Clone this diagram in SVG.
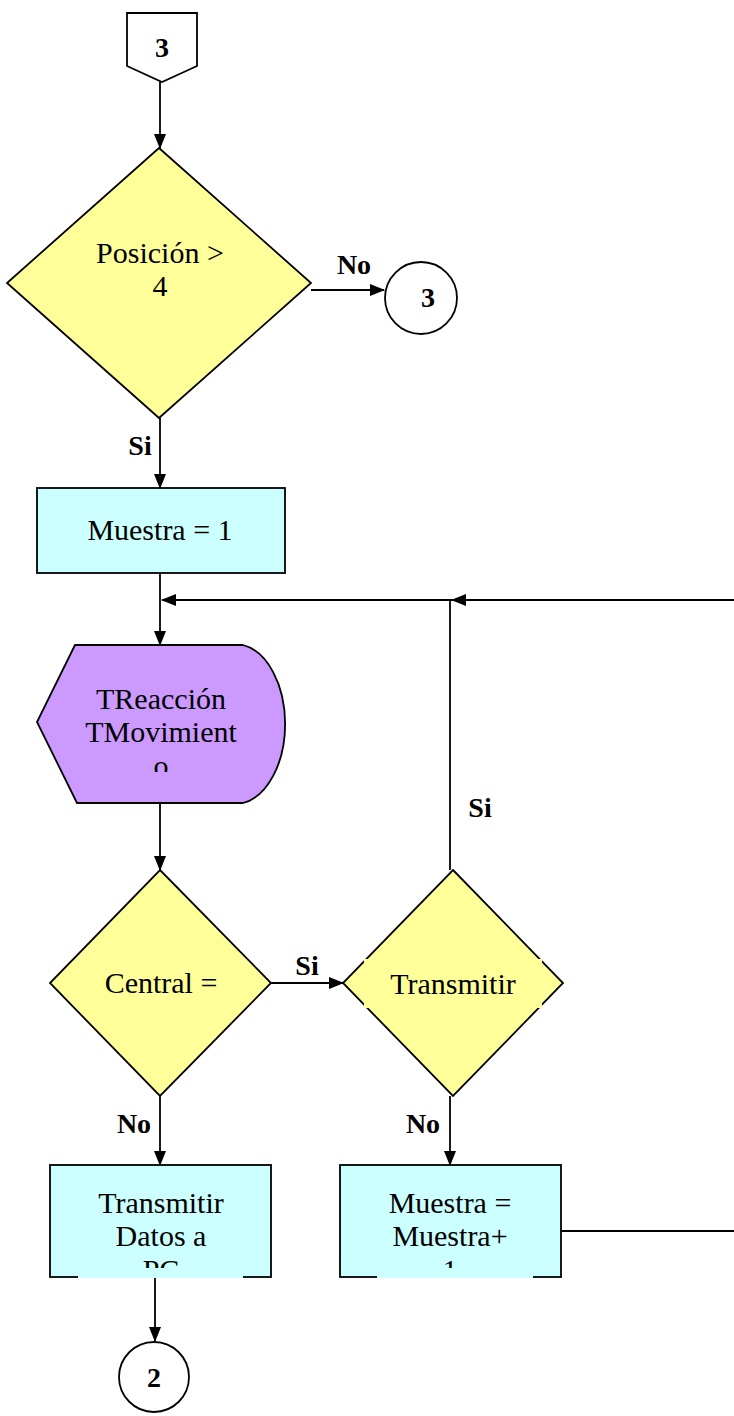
<svg xmlns="http://www.w3.org/2000/svg" width="734" height="1416" viewBox="0 0 734 1416">
<style>
.s{stroke:#000;stroke-width:1.8}
.dec{fill:#ffff99}
.proc{fill:#ccffff}
.disp{fill:#cc99ff}
.wh{fill:#fff}
.t{font-family:"Liberation Serif","Times New Roman",serif;font-size:30px;fill:#000;text-anchor:middle}
.b{font-family:"Liberation Serif","Times New Roman",serif;font-size:28px;font-weight:bold;fill:#000;text-anchor:middle}
.c{fill:none;stroke:#000;stroke-width:1.8}
</style>
<defs>
<marker id="ah" markerWidth="15" markerHeight="12" refX="14" refY="6" orient="auto" markerUnits="userSpaceOnUse">
<path d="M0,0 L15,6 L0,12 Z" fill="#000"/>
</marker>
<clipPath id="cp1"><rect x="30" y="640" width="260" height="132"/></clipPath>
<clipPath id="cp2"><rect x="50" y="1165" width="221" height="103"/></clipPath>
<clipPath id="cp3"><rect x="340" y="1165" width="221" height="103"/></clipPath>
</defs>

<g id="connectors">
<line class="c" x1="160" y1="82" x2="160" y2="148" marker-end="url(#ah)"/>
<line class="c" x1="311" y1="290" x2="384" y2="290" marker-end="url(#ah)"/>
<line class="c" x1="160" y1="418" x2="160" y2="488" marker-end="url(#ah)"/>
<line class="c" x1="160" y1="573" x2="160" y2="645" marker-end="url(#ah)"/>
<line class="c" x1="734" y1="600" x2="452" y2="600" marker-end="url(#ah)"/>
<line class="c" x1="452" y1="600" x2="162" y2="600" marker-end="url(#ah)"/>
<line class="c" x1="450" y1="870" x2="450" y2="600"/>
<line class="c" x1="160" y1="803" x2="160" y2="870" marker-end="url(#ah)"/>
<line class="c" x1="271" y1="983" x2="343" y2="983" marker-end="url(#ah)"/>
<line class="c" x1="160" y1="1096" x2="160" y2="1165" marker-end="url(#ah)"/>
<line class="c" x1="450" y1="1096" x2="450" y2="1165" marker-end="url(#ah)"/>
<line class="c" x1="155" y1="1277" x2="155" y2="1341" marker-end="url(#ah)"/>
<line class="c" x1="561" y1="1231" x2="734" y2="1231"/>
<text class="b" x="354" y="274">No</text>
<text class="b" x="140" y="455">Si</text>
<text class="b" x="480" y="817">Si</text>
<text class="b" x="307" y="975">Si</text>
<text class="b" x="134" y="1133">No</text>
<text class="b" x="423" y="1133">No</text>
</g>

<g id="offpage3">
<path class="s wh" d="M127,13 L197,13 L197,66 L162,82 L127,66 Z"/>
<text class="b" x="162" y="57">3</text>
</g>

<g id="dec_posicion">
<path class="s dec" d="M159,148 L311,283 L159,418 L7,283 Z"/>
<text class="t" x="160" y="263">Posición &gt;</text>
<text class="t" x="160" y="296">4</text>
</g>

<g id="conn3">
<circle class="s wh" cx="421" cy="298" r="36"/>
<text class="b" x="428" y="307">3</text>
</g>

<g id="muestra1">
<rect class="s proc" x="37" y="488" width="248" height="85"/>
<text class="t" x="160" y="540">Muestra = 1</text>
</g>

<g id="display">
<path class="s disp" d="M75,645 L243,645 A50,80 0 0 1 243,803 L77,803 L37,722 Z"/>
<g clip-path="url(#cp1)">
<text class="t" x="161" y="709">TReacción</text>
<text class="t" x="161" y="742">TMovimient</text>
<text class="t" x="161" y="776">o</text>
</g>
</g>

<g id="dec_central">
<path class="s dec" d="M160,870 L271,983 L160,1096 L50,983 Z"/>
<text class="t" x="161" y="993">Central =</text>
</g>

<g id="dec_transmitir">
<path class="s dec" d="M453,870 L563,983 L453,1096 L343,983 Z"/>
<rect class="dec" x="364" y="959" width="178" height="49"/>
<text class="t" x="453" y="994">Transmitir</text>
</g>

<g id="transmitir_pc">
<rect class="s proc" x="50" y="1165" width="221" height="112"/>
<rect class="proc" x="78" y="1265" width="165" height="13"/>
<g clip-path="url(#cp2)">
<text class="t" x="161" y="1213">Transmitir</text>
<text class="t" x="161" y="1246">Datos a</text>
<text class="t" x="161" y="1280">PC</text>
</g>
</g>

<g id="muestra_inc">
<rect class="s proc" x="340" y="1165" width="221" height="112"/>
<rect class="proc" x="377" y="1265" width="156" height="13"/>
<g clip-path="url(#cp3)">
<text class="t" x="450" y="1213">Muestra =</text>
<text class="t" x="450" y="1246">Muestra+</text>
<text class="t" x="450" y="1280">1</text>
</g>
</g>

<g id="conn2">
<circle class="s wh" cx="154" cy="1377" r="35"/>
<text class="b" x="154" y="1387">2</text>
</g>
</svg>
